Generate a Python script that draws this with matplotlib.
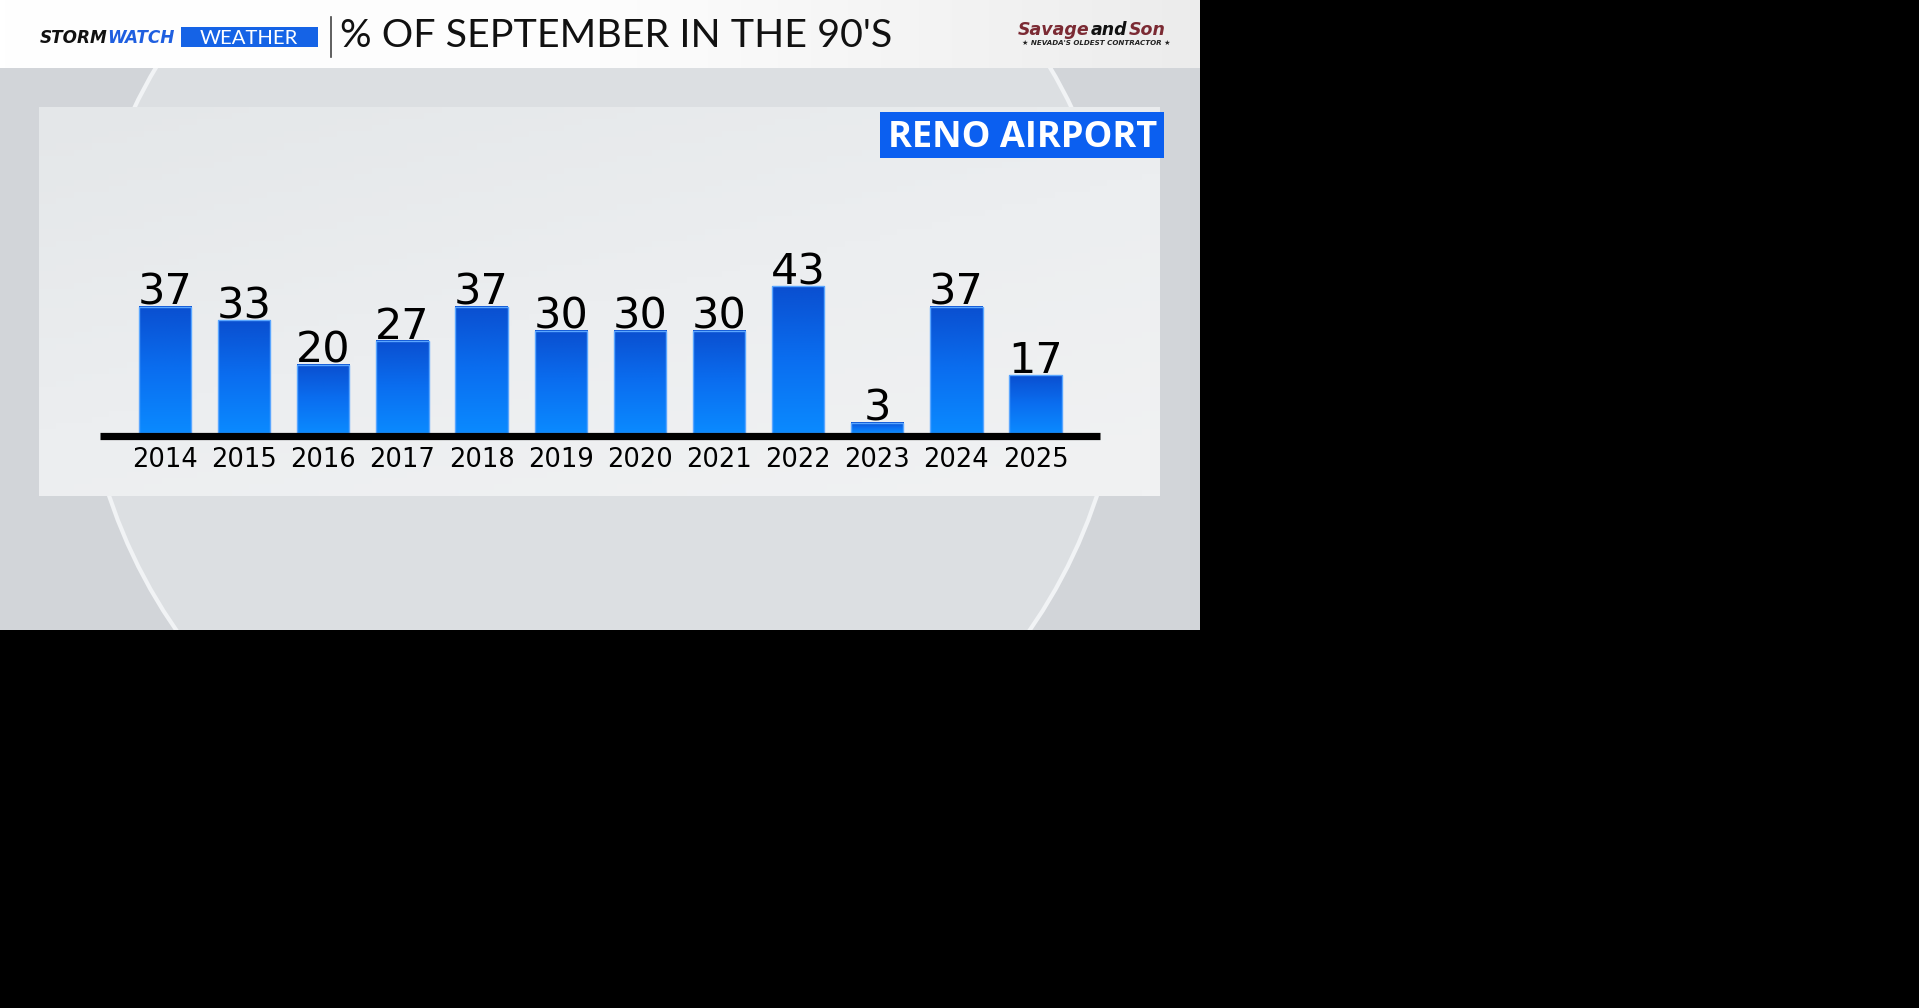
import matplotlib.pyplot as plt
import numpy as np
from matplotlib.patches import Rectangle, Circle
from matplotlib.colors import LinearSegmentedColormap

years = ['2014', '2015', '2016', '2017', '2018', '2019',
         '2020', '2021', '2022', '2023', '2024', '2025']
pct = [37, 33, 20, 27, 37, 30, 30, 30, 43, 3, 37, 17]
title = "% OF SEPTEMBER IN THE 90'S"
station = 'RENO AIRPORT'

W, H = 1919, 1008
fig = plt.figure(figsize=(W / 100, H / 100), dpi=100, facecolor='black')
renderer = fig.canvas.get_renderer()


def fit(t, width):
    # scale a text so its drawn width matches the broadcast graphic
    bb = t.get_window_extent(renderer)
    t.set_fontsize(t.get_fontsize() * width / bb.width)
    return t


def word(x, y, s, gap=1, **kw):
    # left aligned text, returns where the next word starts
    t = bg.text(x, y, s, ha='left', va='baseline', zorder=4, **kw)
    return x + t.get_window_extent(renderer).width + gap


# background layer in pixel coordinates
bg = fig.add_axes([0, 0, 1, 1])
screen = Rectangle((0, 0), 1200, 630, facecolor='#d2d5d9', edgecolor='none')
bg.add_patch(screen)
plate = Circle((603, 333), 520, facecolor='#dcdfe2', edgecolor='#f1f3f5', lw=3)
bg.add_patch(plate)
plate.set_clip_path(screen)

# header strip
hdr = LinearSegmentedColormap.from_list('hdr', ['#ffffff', '#fdfdfd', '#ececec'])
bg.imshow(np.linspace(0, 1, 256)[None, :], extent=(0, 1200, 68, 0),
          cmap=hdr, aspect='auto', zorder=2)

# chart panel
pan = LinearSegmentedColormap.from_list('pan', ['#e4e7e9', '#eceef0', '#f1f2f3'])
gy, gx = np.mgrid[0:1:64j, 0:1:64j]
bg.imshow((gx * 0.4 + gy * 0.6), extent=(39, 1160, 496, 107),
          cmap=pan, aspect='auto', zorder=2)

# station tag
bg.add_patch(Rectangle((880, 112), 284, 46, facecolor='#0b5ff0', zorder=3))
fit(bg.text(1023, 147, station, color='white', fontsize=23, family='Open Sans',
            weight='bold', ha='center', va='baseline', zorder=4), 270)

# header branding, STORM + WATCH share one size
brand = dict(family='DejaVu Sans', weight='heavy', style='italic',
             ha='left', va='baseline', zorder=4)
t1 = bg.text(40, 43, 'STORM', color='#111111', fontsize=12, **brand)
t2 = bg.text(40, 43, 'WATCH', color='#1f5fe0', fontsize=12, **brand)
w1 = t1.get_window_extent(renderer).width
w2 = t2.get_window_extent(renderer).width
k = 135 / (w1 + w2)
t1.set_fontsize(12 * k)
t2.set_fontsize(12 * k)
t2.set_x(40 + w1 * k)

bg.add_patch(Rectangle((181, 27), 137, 20, facecolor='#1563e6', zorder=3))
fit(bg.text(249, 44, 'WEATHER', color='white', fontsize=13, family='Lato',
            ha='center', va='baseline', zorder=4), 98)
bg.plot([331, 331], [17, 57], color='#444444', lw=1.2, zorder=4)
fit(bg.text(340, 47, title, color='#111111', fontsize=24, family='Lato',
            ha='left', va='baseline', zorder=4), 551)

# sponsor logo
logo = dict(fontsize=12.5, family='DejaVu Sans', weight='bold', style='italic')
nx = word(1018, 35, 'Savage', color='#7b2a33', **logo)
nx = word(nx, 35, 'and', color='#111111', **logo)
word(nx, 35, 'Son', color='#7b2a33', **logo)
fit(bg.text(1096, 45, "\u2605 NEVADA'S OLDEST CONTRACTOR \u2605", color='#222222',
            fontsize=5, family='DejaVu Sans', weight='bold', style='italic',
            ha='center', va='baseline', zorder=4), 150)

bg.set_xlim(0, W)
bg.set_ylim(H, 0)
bg.axis('off')

# bar chart
ax = fig.add_axes([100 / W, 1 - 433 / H, 1000 / W, 283 / H])
x = np.arange(len(years))
bars = ax.bar(x, pct, width=0.66, color='none', edgecolor='#5aa6ff', lw=1, zorder=3)
grad = np.linspace(0, 1, 256)[:, None]
blue = LinearSegmentedColormap.from_list('blue', ['#0a4fd0', '#0a6ef0', '#0b8aff'])
for b in bars:
    x0, w, h = b.get_x(), b.get_width(), b.get_height()
    ax.imshow(grad, extent=(x0, x0 + w, 0, h), cmap=blue, aspect='auto',
              origin='upper', zorder=2)

for xi, v in zip(x, pct):
    ax.annotate(str(v), (xi, v), xytext=(0, 1.5), textcoords='offset points',
                ha='center', va='baseline', fontsize=31, family='DejaVu Sans',
                color='black')

ax.axhline(-1.0, color='black', lw=5.2, clip_on=False, zorder=4,
           solid_capstyle='butt')
ax.set_xticks(x)
ax.set_xticklabels(years, fontsize=18.5, family='DejaVu Sans', color='black')
ax.tick_params(axis='x', length=0, pad=10)
ax.set_yticks([])
ax.set_xlim(-0.821, 11.814)
ax.set_ylim(0, 83)
ax.patch.set_visible(False)
for s in ax.spines.values():
    s.set_visible(False)

fig.savefig('out.png', dpi=100, facecolor='black')
